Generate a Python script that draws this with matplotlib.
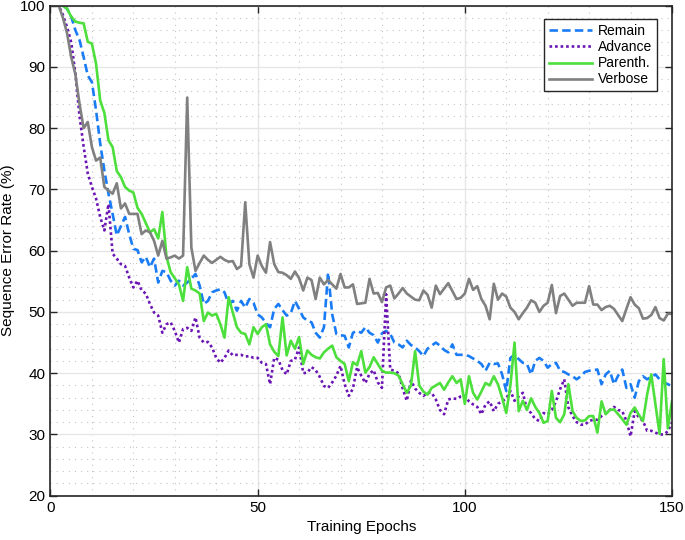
#!/usr/bin/env python

"""Sequence error rate vs. training epochs"""

import numpy as np
import matplotlib
matplotlib.use("Agg")
import matplotlib.pyplot as plt
from matplotlib.ticker import MultipleLocator

#{{{data
epochs = np.arange(0, 151)

remain = [
    100, 100, 100, 100, 99.5, 98.2, 96.0, 94.4, 91.6, 88.6,
    87.5, 82.9, 77.5, 73.1, 69.3, 66.0, 62.5, 64.0, 65.5, 62.7,
    60.3, 60.1, 58.1, 59.0, 57.3, 58.7, 54.8, 56.7, 56.5, 55.1,
    54.3, 55.1, 54.3, 54.8, 55.4, 56.2, 54.3, 51.3, 51.8, 53.2,
    53.5, 53.7, 53.2, 51.3, 51.8, 50.2, 51.8, 50.7, 52.1, 51.5,
    49.6, 49.1, 48.2, 47.5, 50.5, 51.3, 50.3, 49.4, 49.8, 51.8,
    50.5, 49.1, 48.6, 48.3, 46.6, 45.8, 47.5, 56.4, 49.6, 46.4,
    46.2, 46.1, 44.2, 46.6, 46.9, 46.6, 47.5, 46.6, 46.2, 45.0,
    46.5, 46.9, 46.4, 45.0, 44.7, 44.2, 45.3, 44.6, 44.2, 43.6,
    42.8, 44.0, 44.5, 45.0, 44.5, 43.8, 43.4, 44.7, 43.0, 43.0,
    43.0, 42.8, 42.4, 42.0, 41.5, 40.4, 41.7, 41.5, 41.6, 39.8,
    37.1, 42.5, 43.0, 42.3, 41.7, 41.5, 39.8, 42.0, 42.5, 42.0,
    40.9, 41.5, 41.7, 40.4, 40.2, 39.8, 39.5, 39.0, 39.5, 40.2,
    40.4, 40.5, 40.6, 38.2, 39.8, 40.4, 38.2, 39.6, 40.6, 37.6,
    38.2, 36.0, 38.7, 39.5, 39.0, 39.4, 39.8, 39.0, 38.5, 38.2,
    37.9]

advance = [
    100, 100, 100, 98.5, 96.5, 94.0, 89.0, 82.0, 77.0, 72.6,
    70.4, 68.5, 65.5, 63.3, 67.6, 59.5, 58.7, 57.8, 57.5, 55.6,
    54.0, 55.1, 53.5, 53.0, 51.3, 49.9, 49.4, 46.6, 48.0, 48.3,
    46.9, 45.0, 47.2, 47.4, 46.9, 49.1, 45.8, 45.0, 45.1, 44.2,
    42.5, 41.7, 42.5, 43.7, 42.9, 43.0, 43.0, 42.7, 42.8, 42.5,
    42.5, 41.7, 41.5, 38.2, 42.5, 42.2, 40.5, 39.8, 42.0, 42.2,
    44.2, 40.0, 40.1, 41.0, 40.5, 39.4, 37.9, 37.6, 38.5, 39.6,
    41.2, 38.2, 36.3, 37.5, 41.0, 39.6, 38.4, 39.9, 40.5, 38.5,
    37.6, 52.9, 40.6, 40.4, 40.0, 37.5, 35.5, 38.8, 37.5, 36.8,
    36.3, 36.8, 36.8, 35.7, 34.0, 33.3, 35.7, 35.9, 35.8, 36.2,
    36.3, 35.4, 34.9, 34.5, 33.3, 34.9, 35.4, 33.8, 35.0, 35.4,
    35.9, 37.1, 35.5, 36.2, 36.8, 34.1, 33.5, 32.5, 32.2, 33.5,
    33.3, 34.0, 35.4, 37.4, 39.0, 34.4, 33.0, 32.0, 31.6, 31.6,
    32.2, 32.4, 32.4, 33.0, 33.5, 34.0, 34.5, 34.0, 33.8, 32.2,
    29.7, 33.8, 32.8, 32.2, 30.6, 30.6, 30.3, 30.0, 30.0, 30.5,
    32.0]

parenth = [
    100, 100, 100, 100, 99.5, 98.2, 97.4, 97.2, 97.1, 94.1,
    93.8, 90.5, 84.5, 82.5, 78.0, 76.9, 73.0, 72.0, 70.4, 69.8,
    69.5, 67.0, 66.0, 64.5, 63.0, 63.5, 62.0, 66.3, 59.0, 56.5,
    55.5, 54.5, 51.8, 57.3, 53.8, 53.5, 53.0, 48.5, 49.9, 49.4,
    49.7, 48.0, 45.8, 52.4, 49.9, 47.5, 46.6, 46.4, 44.7, 47.5,
    46.4, 47.5, 48.0, 44.7, 43.5, 42.8, 49.1, 42.9, 45.3, 44.0,
    45.9, 41.5, 43.7, 43.0, 42.6, 42.4, 43.4, 44.0, 44.5, 42.6,
    42.0, 41.5, 38.7, 41.8, 41.3, 43.6, 40.1, 41.0, 42.6, 41.5,
    40.4, 40.1, 40.1, 40.0, 39.6, 38.2, 36.8, 38.0, 43.6, 38.0,
    37.0, 36.5, 37.6, 38.0, 38.4, 37.3, 38.5, 39.5, 38.4, 39.0,
    35.0, 39.5, 36.8, 35.7, 37.0, 38.4, 38.0, 39.5, 38.2, 36.0,
    33.5, 38.0, 45.0, 33.8, 35.5, 34.0, 35.9, 34.5, 33.5, 31.9,
    32.2, 37.1, 32.7, 32.0, 33.3, 38.2, 33.8, 32.7, 32.2, 32.3,
    33.0, 33.0, 30.3, 35.4, 33.3, 34.0, 34.1, 33.3, 32.5, 31.6,
    33.5, 34.4, 33.2, 32.2, 36.5, 39.8, 35.0, 30.1, 42.3, 31.0,
    35.4]

verbose = [
    100, 100, 100, 98.0, 95.5, 91.6, 88.8, 84.0, 80.0, 81.0,
    76.9, 74.7, 75.2, 70.4, 69.8, 69.3, 71.0, 66.9, 67.7, 66.0,
    66.0, 66.0, 62.7, 63.3, 63.0, 61.6, 59.2, 61.6, 58.7, 58.9,
    59.2, 58.7, 59.2, 85.0, 60.5, 56.7, 58.0, 59.2, 58.5, 58.0,
    58.5, 59.0, 58.5, 58.2, 58.3, 57.0, 57.5, 67.9, 57.8, 55.6,
    59.2, 57.5, 56.4, 61.4, 57.8, 56.5, 56.4, 56.0, 55.4, 56.6,
    55.5, 53.5, 55.6, 55.2, 52.1, 55.6, 54.5, 55.2, 54.5, 53.8,
    56.2, 54.0, 54.0, 54.5, 51.3, 51.4, 51.5, 55.4, 53.0, 53.1,
    51.6, 54.0, 54.3, 52.2, 53.0, 53.9, 53.0, 52.5, 52.0, 51.9,
    53.5, 52.8, 50.7, 54.3, 52.9, 53.8, 54.7, 53.4, 52.1, 52.3,
    53.0, 55.4, 53.6, 54.2, 52.1, 51.0, 48.8, 54.6, 52.0, 53.0,
    52.5, 50.7, 50.0, 48.8, 49.8, 50.7, 51.9, 51.5, 50.0, 51.0,
    51.5, 54.4, 49.8, 52.6, 53.0, 52.0, 51.0, 51.5, 51.5, 51.5,
    54.2, 51.2, 51.2, 50.3, 50.8, 51.0, 50.5, 49.5, 48.5, 50.5,
    52.4, 51.2, 50.6, 48.9, 49.0, 49.5, 50.8, 49.0, 48.6, 49.7,
    49.7]

labels = ["Remain", "Advance", "Parenth.", "Verbose"]
#}}}

plt.rcParams["font.family"] = ["Liberation Sans", "DejaVu Sans"]

fig = plt.figure(figsize=(6.85, 5.4), dpi=100)
ax = fig.add_axes([0.0737, 0.082, 0.9073, 0.9076])

lw = 1.9
ax.plot(epochs, remain, color="#1a7cf5", lw=lw, dashes=(3.2, 1.6),
        label=labels[0])
ax.plot(epochs, advance, color="#6a14b4", lw=lw, dashes=(1.0, 1.1),
        label=labels[1])
ax.plot(epochs, parenth, color="#4ddf3c", lw=lw, label=labels[2])
ax.plot(epochs, verbose, color="#808080", lw=lw, label=labels[3])

# Axis limits and ticks
ax.set_xlim(0, 150)
ax.set_ylim(20, 100)
ax.xaxis.set_major_locator(MultipleLocator(50))
ax.xaxis.set_minor_locator(MultipleLocator(10))
ax.yaxis.set_major_locator(MultipleLocator(10))
ax.yaxis.set_minor_locator(MultipleLocator(2))
ax.tick_params(which="major", direction="in", length=5, width=1,
               top=True, right=True, labelsize=11, color="#262626")
ax.tick_params(which="minor", length=0, top=True, right=True)

# Grid
ax.grid(which="major", color="#e6e6e6", lw=1.0, ls="-")
ax.grid(which="minor", color="#c4c4c4", lw=0.8, ls=(0, (1, 4.5)))
ax.set_axisbelow(True)

for sp in ax.spines.values():
    sp.set_color("#262626")
    sp.set_linewidth(1.2)

ax.set_xlabel("Training Epochs", fontsize=11, labelpad=4)
ax.set_ylabel("Sequence Error Rate (%)", fontsize=11, labelpad=4)

leg = ax.legend(loc="upper right", bbox_to_anchor=(0.976, 0.972),
                borderaxespad=0, fontsize=10, handlelength=3.1,
                labelspacing=0.15, handletextpad=0.4, borderpad=0.35,
                fancybox=False, framealpha=1)
leg.get_frame().set_edgecolor("#262626")
leg.get_frame().set_linewidth(1.0)

fig.savefig("out.png", dpi=100)
